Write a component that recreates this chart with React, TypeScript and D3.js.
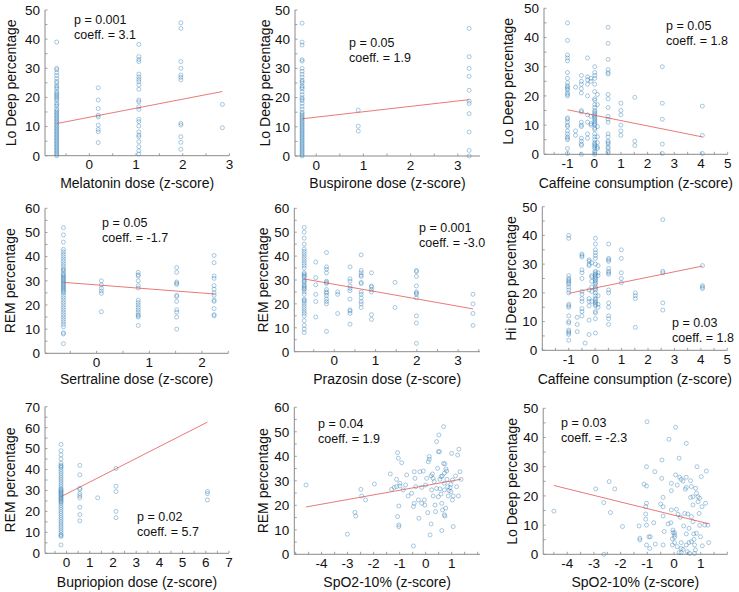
import React from 'react';
import * as d3 from 'd3';

// ---------- DATA ----------
// Panel 1: Melatonin dose vs Lo Deep %
const melatoninX = [-0.70, 0.19, 1.06, 1.96, 2.85];
const melatoninLoDeep = [
  [39, 30, 29.5, 28.5, 27.5, 26.5, 25.5, 25, 24, 23.5, 23, 22, 21.5, 21, 20.5, 20, 19.5, 19, 18, 17.5, 17, 16, 15.5, 15, 14.5, 14, 13.5, 13, 12.5, 12, 11.5, 11, 10.5, 10, 9.5, 9, 8.5, 8, 7.5, 7, 6.5, 6, 5.5, 5, 4.5, 4, 3.5, 3, 2.5, 2, 1.5, 1, 0.5, 0],
  [23.3, 19.1, 16.2, 13.9, 13.3, 10.5, 9.0, 8.2, 4.5],
  [38.2, 34, 33, 32.3, 28, 27, 26.2, 25.4, 24.3, 22.8, 19.1, 18.5, 16.8, 15.9, 12.5, 11.7, 10.2, 8.2, 7.1, 6.5, 4.8, 3.1, 1.7, 0.6],
  [45.6, 43.7, 32.3, 30, 27.7, 26.9, 26, 11.1, 10.5, 6.5, 4.6, 2.2],
  [17.6, 9.6],
];

// Panel 2: Buspirone dose vs Lo Deep %
const buspironeX = [-0.30, 0.89, 3.24];
const buspironeLoDeep = [
  [45.5, 39, 38, 33, 32.5, 30, 29, 28, 27, 26, 25.5, 25, 24, 23.5, 23, 22, 21, 20, 19.5, 19, 18, 17, 16, 15, 14.5, 14, 13.5, 13, 12.5, 12, 11.5, 11, 10.5, 10, 9.5, 9, 8.5, 8, 7.5, 7, 6.5, 6, 5.5, 5, 4.5, 4, 3.5, 3, 2.5, 2, 1.5, 1, 0.5, 0],
  [15.7, 10.2, 8.5],
  [43.7, 34, 30, 27.3, 22.5, 18.8, 18, 14.5, 8.2, 1.9, 0],
];

// Panel 3: Caffeine vs Lo Deep %
const caffeineLoX = [-1.0, -0.7, -0.48, -0.25, -0.12, 0.02, 0.12, 0.52, 1.0, 1.52, 2.55, 4.05];
const caffeineLoDeep = [
  [45, 39, 34, 33, 32, 28, 26, 24.5, 23.5, 23, 22.5, 22, 21, 20.5, 20, 12.5, 12, 11, 10, 9.5, 8, 7, 6, 5.5, 5, 2, 0.3],
  [23, 8, 6.5],
  [27, 25, 24, 22.5, 21, 15, 14.5, 11, 10, 9.5, 5.5, 4.5, 3.5, 3, 0],
  [33, 26.5, 25.5, 24, 20, 13.5, 11, 7, 5.5],
  [26, 25, 13, 10.5, 10],
  [30, 28, 27, 26, 24, 21.5, 19, 18.5, 17, 16, 15, 14.5, 14, 13.5, 13, 12.5, 12, 11.5, 11, 10.5, 10, 9, 8.5, 7, 6, 5, 4, 3.5, 3, 2.5, 2, 1, 0.5, 0],
  [20.5, 17, 9.5, 6, 4, 2.5, 2],
  [43.5, 38, 32.5, 29, 28, 27.5, 20.5, 19, 16, 13, 12, 11, 7, 6, 4.5, 4, 3.5, 2.5, 2, 1, 0.5],
  [17.5, 15, 13.5, 10, 8, 6.5],
  [19.5, 4.5, 3],
  [30, 17.5, 12, 3.5, 0.3],
  [16.5, 6.5, 0.3],
];

// Panel 4: Sertraline dose vs REM %
const sertralineX = [-0.63, 0.09, 0.79, 1.52, 2.23];
const sertralineREM = [
  [52, 49, 46, 43, 42, 41, 40, 39, 38, 37, 36, 35, 34.5, 34, 33, 32.5, 32, 31.5, 31, 30.5, 30, 29.5, 29, 28.5, 28, 27.5, 27, 26.5, 26, 25.5, 25, 24, 23, 22, 21, 20, 19, 18, 17, 16, 15, 14, 13, 12, 11, 8.5, 8, 4],
  [30, 28.3, 26.9, 25.8, 24.8, 17.2],
  [33.5, 32.5, 32, 30, 28, 27, 22, 21, 20, 19, 18, 17, 16, 15.5, 15, 11.5],
  [35.5, 33.5, 29.5, 29, 28.5, 24, 23.5, 21.5, 18, 17, 15, 10],
  [40.5, 37.5, 32, 31, 28, 26.5, 25, 24, 22, 21.5, 18.5, 16, 15.5],
];

// Panel 5: Prazosin dose vs REM %
const prazosinX = [-0.73, -0.45, -0.19, 0.08, 0.38, 0.65, 0.9, 1.47, 1.99, 3.36];
const prazosinREM = [
  [52, 50, 47.5, 45, 43, 42, 41, 40, 39, 38, 37, 36, 35, 33, 32.5, 32, 31.5, 31, 30, 29.5, 29, 28, 27.5, 27, 26.5, 26, 25, 24, 22, 21.5, 21, 20, 19, 18, 17, 16, 15, 13, 11, 9.5, 8],
  [37.5, 31, 28, 24, 21, 14.5],
  [41.5, 35.5, 34.5, 33, 29.5, 29, 28.5, 26, 25, 24.5, 23.5, 22, 21, 20, 8.5],
  [25, 24, 16],
  [35.5, 30.5, 29.5, 27.5, 26.5, 25.5, 22, 17.5, 17, 16, 11.5],
  [40.5, 34, 33, 32, 31.5, 29, 28.5, 25, 24, 22.5, 21, 20, 18.5],
  [33, 27.5, 27, 26, 25, 15.5, 13.5],
  [29, 18.5],
  [34, 33.5, 31.5, 27.5, 25, 24.5, 24, 22.5, 15, 12, 3.5],
  [24, 20, 16, 11],
];

// Panel 6: Caffeine vs Hi Deep %
const caffeineHiX = [-1.0, -0.68, -0.5, -0.38, -0.23, -0.13, 0.01, 0.11, 0.51, 0.99, 1.52, 2.56, 4.06];
const caffeineHiDeep = [
  [40, 39, 26, 25, 24.5, 24, 23.5, 23, 22, 21, 20, 16, 15.5, 15, 12, 10, 9.5, 7, 6.5, 6, 5.5, 3.5],
  [11.5, 9, 6.5],
  [33.5, 33, 32.5, 28, 27, 25, 20.5, 19.5, 18, 17, 14.5, 13.5, 12],
  [2.5],
  [31.5, 31, 30, 29.5, 21, 18, 17, 15.5, 10.5, 5.5],
  [30.5, 26, 25.5, 24, 22, 20.5, 17],
  [39, 37, 35, 34, 33, 32, 30, 27.5, 27, 26.5, 26, 25.5, 25, 24.5, 24, 23.5, 23, 22, 21.5, 21, 20, 19, 18, 17.5, 17, 16.5, 16, 15.5, 13.5, 13, 11, 6],
  [29.5, 27, 26, 19, 16, 15],
  [37, 32, 31.5, 31, 28.5, 27.5, 27, 26.5, 21, 20, 16.5, 15, 12, 11, 9],
  [35, 32, 27, 25, 23.5],
  [20, 19, 18, 8],
  [45.5, 27.5, 27, 16.5, 14],
  [29.5, 22.5, 22, 21.5],
];

// Panel 7: Bupriopion dose vs REM %
const bupriopionX = [-0.24, 0.57, 1.34, 2.13, 6.07];
const bupriopionREM = [
  [52, 49, 47, 45, 43, 42, 41.5, 41, 40, 39, 38, 37, 36, 35, 34, 33, 32, 31, 30.5, 30, 29.5, 29, 28.5, 28, 27.5, 27, 26.5, 26, 25.5, 25, 24.5, 24, 23, 22, 21, 20, 19, 18, 17, 16, 15, 14, 13, 12, 11, 10, 9, 8.5, 8, 4],
  [42, 37.5, 31, 30.5, 28.5, 27.5, 26.5, 22, 18.5, 15.5],
  [26.5],
  [40.5, 32, 29.5, 20, 17],
  [29.5, 28.5, 25.5],
];

// Panel 8: SpO2-10% vs REM %
const spo2RemX = [-4.6, -3.01, -2.72, -2.69, -2.49, -2.46, -2.31, -1.97, -1.36, -1.31, -1.21, -1.12, -1.08, -1.05, -1.12, -1.08, -1.03, -1.03, -1.03, -0.99, -0.99, -0.92, -0.86, -0.77, -0.73, -0.67, -0.54, -0.47, -0.44, -0.47, -0.44, -0.41, -0.38, -0.26, -0.22, -0.15, -0.09, -0.05, -0.03, 0, 0.04, 0.08, 0.1, 0.14, 0.14, 0.17, 0.21, 0.21, 0.26, 0.29, 0.29, 0.33, 0.36, 0.38, 0.42, 0.46, 0.49, 0.53, 0.49, 0.51, 0.55, 0.55, 0.59, 0.64, 0.59, 0.62, 0.62, 0.65, 0.69, 0.69, 0.74, 0.72, 0.72, 0.72, 0.72, 0.74, 0.77, 0.78, 0.82, 0.85, 0.87, 0.9, 0.94, 0.97, 1.0, 1.03, 1.03, 1.06, 1.06, 1.15, 1.19, 1.23, 1.26, 1.28, 1.32, 1.36, 0.97, 0.81, 0.42, 0.23, -0.28, -0.15];
const spo2RemY = [28.3, 8.2, 17.1, 15.6, 26.5, 23.8, 22.2, 28.7, 32.8, 26.5, 27.3, 27.6, 41.5, 39.2, 30.6, 15.4, 12, 11.3, 19.7, 27.9, 29, 37.4, 26.3, 28.3, 32.4, 23.8, 24.9, 19.5, 20.8, 3.4, 33.7, 31, 27.6, 14.7, 33.7, 27.3, 34, 22.2, 20.1, 28.3, 31, 17, 37.8, 38.8, 39.9, 7.9, 12.4, 32, 32.8, 31, 23.8, 29.7, 20.1, 17.4, 46, 35.1, 41.9, 41.9, 23.5, 48.7, 30.6, 26.7, 31.7, 32, 24.6, 9.7, 20.8, 18.1, 52.1, 37.1, 36.9, 33.1, 29, 26.3, 16.1, 15.6, 18.8, 34.8, 30.6, 27.6, 23.8, 26, 27.2, 25.6, 41.2, 30.3, 22.2, 11.3, 23.8, 32, 27.6, 40.5, 23.8, 42.9, 33.7, 30.6, 28.6, 34, 26.9, 26.3, 22.2, 20.8];

// Panel 9: SpO2-10% vs Lo Deep %
const spo2LoX = [-4.5, -2.63, -2.43, -2.38, -2.93, -2.22, -2.63, -1.93, -1.31, -1.28, -1.28, -1.12, -1.03, -1.01, -1.03, -1.03, -1.06, -1.06, -1.06, -1.03, -1.03, -0.94, -0.89, -0.91, -0.76, -0.72, -0.70, -0.50, -0.46, -0.45, -0.41, -0.41, -0.41, -0.41, -0.37, -0.22, -0.19, -0.12, -0.10, -0.10, -0.10, -0.04, -0.04, -0.06, -0.06, 0.02, 0.02, 0.02, 0.02, 0.06, 0.06, 0.09, 0.12, 0.15, 0.19, 0.21, 0.27, 0.24, 0.27, 0.27, 0.27, 0.34, 0.36, 0.40, 0.42, 0.46, 0.46, 0.46, 0.46, 0.46, 0.50, 0.52, 0.56, 0.56, 0.62, 0.62, 0.65, 0.65, 0.65, 0.71, 0.71, 0.71, 0.74, 0.75, 0.77, 0.77, 0.81, 0.84, 0.84, 0.86, 0.90, 0.90, 0.94, 0.96, 0.96, 0.99, 1.02, 1.05, 1.06, 1.15, 1.18, 1.21, 1.27, 1.30, 0.59, 0.80, 0.12, 0.19, 0.34];
const spo2LoY = [14.8, 17.7, 24.9, 14.3, 22.4, 22.4, 0, 9.5, 9.7, 5.5, 4.9, 24, 23.4, 45.4, 30, 17.5, 16.3, 13.8, 12, 10, 3.2, 6, 6, 2, 10.8, 28.3, 3.5, 17.2, 26, 32.3, 19.5, 16.3, 13.1, 3.2, 7.8, 10.4, 39.4, 10.8, 24.3, 21.8, 15.2, 8.3, 7.4, 5.3, 3.2, 7.4, 6.6, 5.8, 4, 43.5, 27.2, 15.4, 23.7, 13.7, 32.9, 26.4, 25.7, 12.7, 4, 2, 0.6, 25.1, 9.7, 14, 22.3, 38, 26.4, 22.9, 7, 3.2, 0.9, 13.8, 8.9, 4, 25.2, 19.5, 23.2, 12.9, 4.3, 19.7, 16.9, 11.2, 7, 5.1, 3.2, 0.3, 22.6, 20.9, 7.2, 30, 19.7, 18, 14, 9.9, 19.2, 6, 26.6, 16.3, 2.9, 10, 17.5, 28.5, 10, 4, 0.3, 1.5, 2.6, 0.6, 1.7];

// Regression fits (intercept, slope) and stats text
const fitIntercepts = [13.2, 13.3, 13.4, 28.3, 28.2, 21.7, 28.4, 28.05, 13.4];
const fitSlopes = [3.1, 1.85, -1.84, -1.68, -3.06, 1.88, 5.64, 1.9, -2.26];
const pValues = ['0.001', '0.05', '0.05', '0.05', '0.001', '0.03', '0.02', '0.04', '0.03'];
const coeffs = ['3.1', '1.9', '1.8', '-1.7', '-3.0', '1.8', '5.7', '1.9', '-2.3'];
const xLabels = [
  'Melatonin dose (z-score)', 'Buspirone dose (z-score)', 'Caffeine consumption (z-score)',
  'Sertraline dose (z-score)', 'Prazosin dose (z-score)', 'Caffeine consumption (z-score)',
  'Bupriopion dose (z-score)', 'SpO2-10% (z-score)', 'SpO2-10% (z-score)',
];
const yLabels = [
  'Lo Deep percentage', 'Lo Deep percentage', 'Lo Deep percentage',
  'REM percentage', 'REM percentage', 'Hi Deep percentage',
  'REM percentage', 'REM percentage', 'Lo Deep percentage',
];
const xTickValues = [
  [0, 1, 2, 3], [0, 1, 2, 3], [-1, 0, 1, 2, 3, 4, 5],
  [0, 1, 2], [0, 1, 2, 3], [-1, 0, 1, 2, 3, 4, 5],
  [0, 1, 2, 3, 4, 5, 6, 7], [-4, -3, -2, -1, 0, 1], [-4, -3, -2, -1, 0, 1],
];
const yTickMax = [50, 50, 50, 60, 60, 50, 70, 60, 50];

// ---------- LAYOUT ----------
type Layout = {
  x0: number; x1: number; y0: number; y1: number;
  xd: [number, number]; ylx: number; ann: [number, number];
};
const layouts: Layout[] = [
  { x0: 45, x1: 229.4, y0: 10, y1: 155.7, xd: [-0.95, 3], ylx: 16, ann: [74, 24] },
  { x0: 295, x1: 480, y0: 10, y1: 156, xd: [-0.45, 3.47], ylx: 270, ann: [349, 47] },
  { x0: 544, x1: 727.7, y0: 8.3, y1: 154.3, xd: [-1.88, 5], ylx: 513, ann: [666, 30] },
  { x0: 45, x1: 228.3, y0: 208.3, y1: 353.3, xd: [-0.98, 2.5], ylx: 15, ann: [102, 227] },
  { x0: 294.3, x1: 480, y0: 208.3, y1: 351.7, xd: [-0.97, 3.53], ylx: 268, ann: [419, 232] },
  { x0: 542.3, x1: 727.3, y0: 206.7, y1: 350.3, xd: [-2, 5], ylx: 516, ann: [672, 327] },
  { x0: 45, x1: 229, y0: 406.7, y1: 553.3, xd: [-0.93, 7], ylx: 15, ann: [137, 521] },
  { x0: 294.3, x1: 480, y0: 407.3, y1: 554.3, xd: [-5.05, 2.09], ylx: 268, ann: [318, 428] },
  { x0: 543.2, x1: 727.4, y0: 408.3, y1: 554.3, xd: [-4.9, 2], ylx: 517, ann: [561, 427] },
];
const xLabelBaselines = [187.5, 187.5, 187.5, 384, 384, 384, 586.5, 586.5, 586.5];

const fromColumns = (xs: number[], cols: number[][]) =>
  xs.flatMap((x, i) => cols[i].map((y) => [x, y] as [number, number]));
const fromPairs = (xs: number[], ys: number[]) =>
  xs.map((x, i) => [x, ys[i]] as [number, number]);

const panelPoints: [number, number][][] = [
  fromColumns(melatoninX, melatoninLoDeep),
  fromColumns(buspironeX, buspironeLoDeep),
  fromColumns(caffeineLoX, caffeineLoDeep),
  fromColumns(sertralineX, sertralineREM),
  fromColumns(prazosinX, prazosinREM),
  fromColumns(caffeineHiX, caffeineHiDeep),
  fromColumns(bupriopionX, bupriopionREM),
  fromPairs(spo2RemX, spo2RemY),
  fromPairs(spo2LoX, spo2LoY),
];

const FONT = '"Liberation Sans", Arial, sans-serif';
const AXIS = '#8a8a8a';
const DOT = '#2f7db4';
const LINE = '#e0504c';

function Panel({ i }: { i: number }) {
  const L = layouts[i];
  const pts = panelPoints[i];
  const x = d3.scaleLinear().domain(L.xd).range([L.x0, L.x1]);
  const y = d3.scaleLinear().domain([0, yTickMax[i]]).range([L.y1, L.y0]);
  const yMajor = d3.range(0, yTickMax[i] + 0.001, 10);
  const yMinor = d3.range(0, yTickMax[i] + 0.001, 5);
  const xMajor = xTickValues[i];
  const xStart = Math.ceil(L.xd[0] * 2) / 2;
  const xMinor = d3.range(xStart, L.xd[1] + 0.001, 0.5);
  const [xmin, xmax] = d3.extent(pts, (d) => d[0]) as [number, number];
  const b = fitIntercepts[i], m = fitSlopes[i];
  const line = d3.line<number>().x((v) => x(v)).y((v) => y(b + m * v));
  const cy = (L.y0 + L.y1) / 2;
  return (
    <g>
      {/* axes */}
      <line x1={L.x0} x2={L.x0} y1={L.y1} y2={L.y0} stroke={AXIS} strokeWidth={1} />
      <line x1={L.x0} x2={L.x1} y1={L.y1} y2={L.y1} stroke={AXIS} strokeWidth={1} />
      {yMinor.map((v) => (
        <line key={'ym' + v} x1={L.x0} x2={L.x0 + 2.5} y1={y(v)} y2={y(v)} stroke={AXIS} strokeWidth={0.8} />
      ))}
      {xMinor.map((v) => (
        <line key={'xm' + v} x1={x(v)} x2={x(v)} y1={L.y1} y2={L.y1 - 2.5} stroke={AXIS} strokeWidth={0.8} />
      ))}
      {yMajor.map((v) => (
        <text key={'yt' + v} x={L.x0 - 5} y={y(v)} dy="0.36em" textAnchor="end" fontSize={13.5} fill="#111" fontFamily={FONT}>{v}</text>
      ))}
      {xMajor.map((v) => (
        <text key={'xt' + v} x={x(v)} y={L.y1 + 13.5} textAnchor="middle" fontSize={13.5} fill="#111" fontFamily={FONT}>{v}</text>
      ))}
      <text x={(L.x0 + L.x1) / 2} y={xLabelBaselines[i]} textAnchor="middle" fontSize={14} fill="#111" fontFamily={FONT}>{xLabels[i]}</text>
      <text transform={`translate(${L.ylx},${cy}) rotate(-90)`} textAnchor="middle" fontSize={14} fill="#111" fontFamily={FONT}>{yLabels[i]}</text>
      {/* points */}
      {pts.map((d, k) => (
        <circle key={k} cx={x(d[0])} cy={y(d[1])} r={2} fill="none" stroke={DOT} strokeOpacity={0.55} strokeWidth={0.75} />
      ))}
      {/* regression line */}
      <path d={line([xmin, xmax]) || ''} stroke={LINE} strokeWidth={0.9} fill="none" strokeOpacity={0.85} />
      {/* annotation */}
      <text x={L.ann[0]} y={L.ann[1]} fontSize={12.5} fill="#111" fontFamily={FONT}>{`p = ${pValues[i]}`}</text>
      <text x={L.ann[0]} y={L.ann[1] + 15} fontSize={12.5} fill="#111" fontFamily={FONT}>{`coeff. = ${coeffs[i]}`}</text>
    </g>
  );
}

export default function App() {
  return (
    <svg width={739} height={592} style={{ position: 'absolute', left: 0, top: 0, background: '#fff' }}>
      <rect width={739} height={592} fill="#fff" />
      {layouts.map((_, i) => <Panel key={i} i={i} />)}
    </svg>
  );
}
